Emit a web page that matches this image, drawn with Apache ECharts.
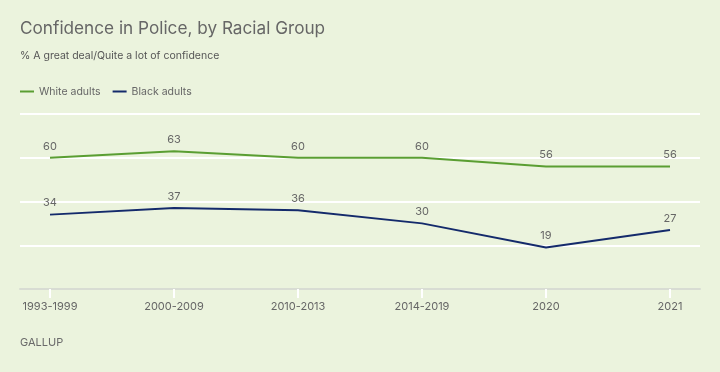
<!DOCTYPE html>
<html><head><meta charset="utf-8">
<script src="https://cdn.jsdelivr.net/npm/echarts@6/dist/echarts.min.js"></script>
<style>html,body{margin:0;padding:0;background:#EBF3DD;}#c{width:720px;height:372px;}</style>
</head><body><div id="c"></div>
<script>
const categories = ['1993-1999','2000-2009','2010-2013','2014-2019','2020','2021'];
const whiteAdults = [60,63,60,60,56,56];
const blackAdults = [34,37,36,30,19,27];
const seriesNames = ['White adults','Black adults'];

const chart = echarts.init(document.getElementById('c'), null, {renderer:'canvas'});
const txt = '#666666';
const font = 'Inter, "Open Sans", sans-serif';
chart.setOption({
  backgroundColor:'#EBF3DD',
  animation:false,
  textStyle:{fontFamily:font},
  title:{text:'Confidence in Police, by Racial Group', subtext:'% A great deal/Quite a lot of confidence',
    left:15, top:15, itemGap:13,
    textStyle:{fontSize:17.2,fontWeight:'normal',color:'#666666',fontFamily:font},
    subtextStyle:{fontSize:10.5,color:'#555555',fontFamily:font}},
  legend:{left:15, top:81, itemWidth:14, itemHeight:2, itemGap:12, icon:'rect',
    textStyle:{fontSize:10.5,color:txt,fontFamily:font}, data:seriesNames},
  graphic:[{type:'text', left:20, top:337, style:{text:'GALLUP', fontSize:11, fill:'#6A6A6A', fontFamily:font, fontWeight:'normal', letterSpacing:2}}],
  grid:[{left:20,right:20,top:114,bottom:83},{left:50,right:50,top:114,bottom:83}],
  xAxis:[
    {type:'value', gridIndex:0, min:0, max:1, show:true, axisLine:{show:true,lineStyle:{color:'#D8DCD3',width:2}}, axisTick:{show:false}, axisLabel:{show:false}, splitLine:{show:false}},
    {type:'category', gridIndex:1, data:categories, boundaryGap:false,
      axisLine:{show:false}, axisTick:{show:true,length:9,lineStyle:{color:'#FFFFFF',width:2}},
      axisLabel:{color:txt,fontSize:11,margin:12,fontFamily:font}}
  ],
  yAxis:[
    {type:'value', gridIndex:0, min:0, max:80, interval:20, axisLine:{show:false}, axisTick:{show:false}, axisLabel:{show:false},
      splitLine:{show:true, lineStyle:{color:'#FFFFFF', width:2}}},
    {type:'value', gridIndex:1, min:0, max:80, interval:20, show:false, splitLine:{show:false}}
  ],
  series:[
    {name:seriesNames[0], type:'line', xAxisIndex:1, yAxisIndex:1, data:whiteAdults, symbol:'circle', symbolSize:0, showSymbol:true, color:'#5A9E32',
      lineStyle:{width:2,color:'#5A9E32'}, label:{show:true,position:'top',distance:6,color:txt,fontSize:11,fontFamily:font}},
    {name:seriesNames[1], type:'line', xAxisIndex:1, yAxisIndex:1, data:blackAdults, symbol:'circle', symbolSize:0, showSymbol:true, color:'#142A6B',
      lineStyle:{width:2,color:'#142A6B'}, label:{show:true,position:'top',distance:6,color:txt,fontSize:11,fontFamily:font}}
  ]
});
</script></body></html>
